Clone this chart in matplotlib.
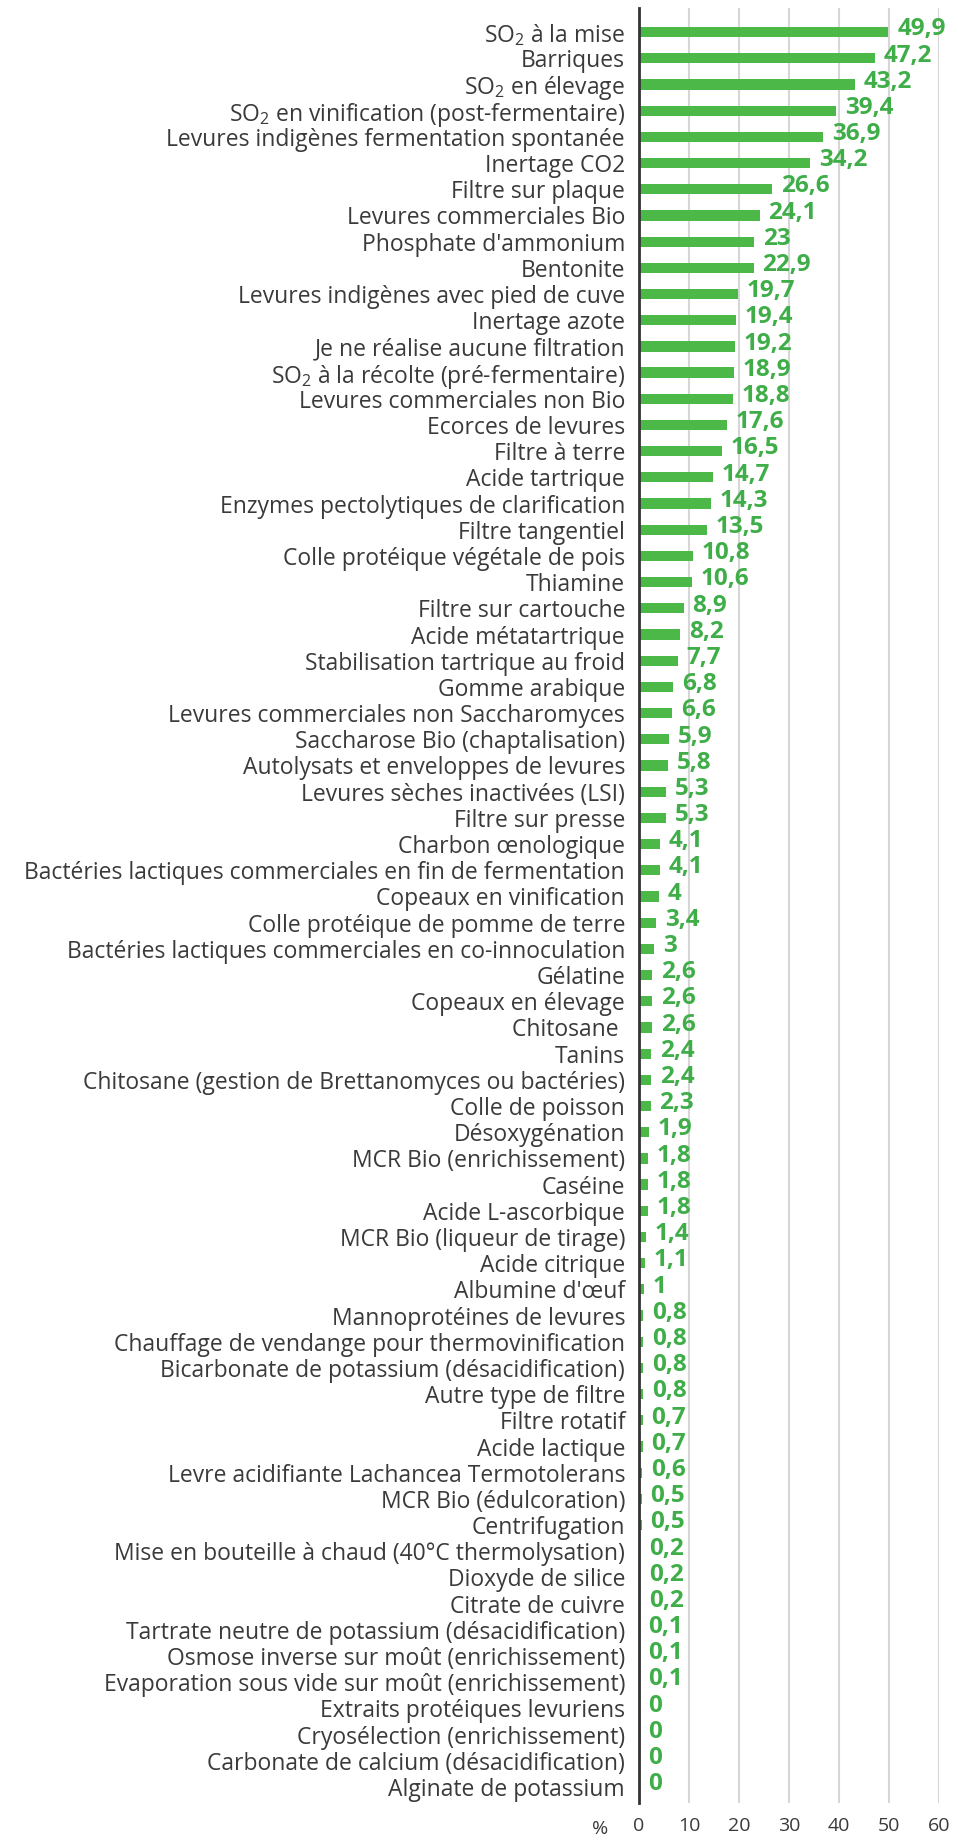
import matplotlib
matplotlib.use("Agg")
import matplotlib.pyplot as plt

plt.rcParams['font.family'] = ['Open Sans', 'DejaVu Sans']
plt.rcParams['mathtext.fontset'] = 'custom'
plt.rcParams['mathtext.rm'] = 'Open Sans'
plt.rcParams['mathtext.it'] = 'Open Sans:italic'
plt.rcParams['mathtext.bf'] = 'Open Sans:bold'

categories = [
    "SO$_2$ à la mise", "Barriques", "SO$_2$ en élevage",
    "SO$_2$ en vinification (post-fermentaire)",
    "Levures indigènes fermentation spontanée", "Inertage CO2",
    "Filtre sur plaque", "Levures commerciales Bio", "Phosphate d'ammonium",
    "Bentonite", "Levures indigènes avec pied de cuve", "Inertage azote",
    "Je ne réalise aucune filtration", "SO$_2$ à la récolte (pré-fermentaire)",
    "Levures commerciales non Bio", "Ecorces de levures", "Filtre à terre",
    "Acide tartrique", "Enzymes pectolytiques de clarification",
    "Filtre tangentiel", "Colle protéique végétale de pois", "Thiamine",
    "Filtre sur cartouche", "Acide métatartrique",
    "Stabilisation tartrique au froid", "Gomme arabique",
    "Levures commerciales non Saccharomyces",
    "Saccharose Bio (chaptalisation)", "Autolysats et enveloppes de levures",
    "Levures sèches inactivées (LSI)", "Filtre sur presse",
    "Charbon œnologique",
    "Bactéries lactiques commerciales en fin de fermentation",
    "Copeaux en vinification", "Colle protéique de pomme de terre",
    "Bactéries lactiques commerciales en co-innoculation", "Gélatine",
    "Copeaux en élevage", "Chitosane ", "Tanins",
    "Chitosane (gestion de Brettanomyces ou bactéries)", "Colle de poisson",
    "Désoxygénation", "MCR Bio (enrichissement)", "Caséine",
    "Acide L-ascorbique", "MCR Bio (liqueur de tirage)", "Acide citrique",
    "Albumine d'œuf", "Mannoprotéines de levures",
    "Chauffage de vendange pour thermovinification",
    "Bicarbonate de potassium (désacidification)", "Autre type de filtre",
    "Filtre rotatif", "Acide lactique",
    "Levre acidifiante Lachancea Termotolerans", "MCR Bio (édulcoration)",
    "Centrifugation", "Mise en bouteille à chaud (40°C thermolysation)",
    "Dioxyde de silice", "Citrate de cuivre",
    "Tartrate neutre de potassium (désacidification)",
    "Osmose inverse sur moût (enrichissement)",
    "Evaporation sous vide sur moût (enrichissement)",
    "Extraits protéiques levuriens", "Cryosélection (enrichissement)",
    "Carbonate de calcium (désacidification)", "Alginate de potassium",
]

values = [
    49.9, 47.2, 43.2, 39.4, 36.9, 34.2, 26.6, 24.1, 23, 22.9,
    19.7, 19.4, 19.2, 18.9, 18.8, 17.6, 16.5, 14.7, 14.3, 13.5,
    10.8, 10.6, 8.9, 8.2, 7.7, 6.8, 6.6, 5.9, 5.8, 5.3,
    5.3, 4.1, 4.1, 4, 3.4, 3, 2.6, 2.6, 2.6, 2.4,
    2.4, 2.3, 1.9, 1.8, 1.8, 1.8, 1.4, 1.1, 1, 0.8,
    0.8, 0.8, 0.8, 0.7, 0.7, 0.6, 0.5, 0.5, 0.2, 0.2,
    0.2, 0.1, 0.1, 0.1, 0, 0, 0, 0,
]

xticks = [0, 10, 20, 30, 40, 50, 60]
axis_unit = "%"

BAR = "#4cb848"
VAL = "#3fae49"
TXT = "#3a3a3a"

W, H = 958, 1841
fig = plt.figure(figsize=(W / 100, H / 100), dpi=100)
ax = fig.add_axes([639 / W, 1 - 1803 / H, 300 / W, (1803 - 8) / H])

n = len(categories)
pos = list(range(n))
ax.barh(pos, values, height=0.39, color=BAR, zorder=3)
ax.set_ylim(n - 1 + 0.61, -0.92)
ax.set_xlim(0, 60)

ax.set_yticks(pos)
ax.set_yticklabels(categories, fontsize=16.5, color=TXT)
ax.set_xticks(xticks)
ax.set_xticklabels([str(t) for t in xticks], fontsize=14, color=TXT)
ax.tick_params(axis='both', length=0)
ax.tick_params(axis='y', pad=10)
ax.tick_params(axis='x', pad=10)

ax.grid(axis='x', color="#d6d6d6", linewidth=1.5, zorder=0)
for s in ['top', 'right', 'bottom']:
    ax.spines[s].set_visible(False)
ax.spines['left'].set_color("#333333")
ax.spines['left'].set_linewidth(2)
ax.spines['left'].set_zorder(4)


def fmt(v):
    if float(v).is_integer():
        return str(int(v))
    return f"{v:.1f}".replace(".", ",")


for p, v in zip(pos, values):
    ax.annotate(fmt(v), xy=(v, p), xytext=(6.5, 2), textcoords='offset points',
                ha='left', va='center', fontsize=17.5, fontweight='bold',
                color=VAL, annotation_clip=False)

fig.text(600 / W, 1 - 1829 / H, axis_unit, ha='center', va='center',
         fontsize=14, color=TXT)

fig.savefig("out.png", dpi=100)
